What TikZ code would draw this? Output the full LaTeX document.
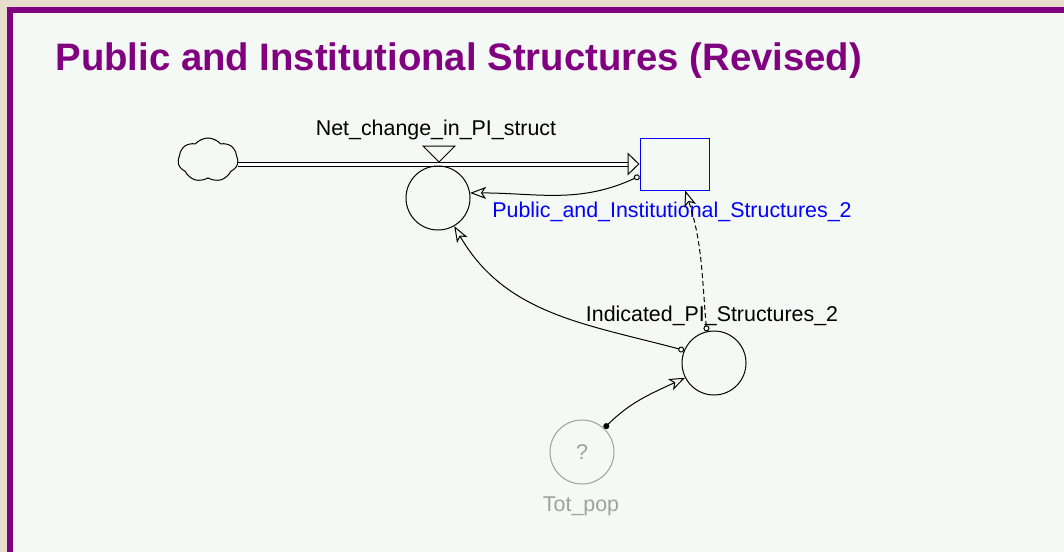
\documentclass[tikz,border=0pt]{standalone}
\usepackage{fontspec}
\setmainfont{Liberation Sans}
\usepackage{xcolor}
\usetikzlibrary{arrows.meta,shapes.symbols}

\definecolor{framepurple}{HTML}{800080}
\definecolor{panelbg}{HTML}{F5F9F6}
\definecolor{paper}{HTML}{E6DDCD}
\definecolor{ghostgray}{HTML}{A0A0A0}

\begin{document}
\begin{tikzpicture}[x=1pt, y=1pt, line width=1pt,
    every node/.style={font=\fontsize{21.4}{25}\selectfont},
    conv/.style={draw, circle, minimum size=64pt, inner sep=0pt},
    ghost/.style={draw=ghostgray, circle, minimum size=64pt, inner sep=0pt, text=ghostgray},
    lbl/.style={inner sep=0pt, anchor=base},
    link/.style={line width=1pt, {Circle[open,length=6pt,width=6pt]}-{Stealth[open,length=16pt,width=12pt,inset=4pt]}}]

    % Background and frame
    \fill[paper] (0,0) rectangle (1064,-552);
    \fill[framepurple] (7,-7) rectangle (1064,-552);
    \fill[panelbg] (13,-13) rectangle (1064,-552);
    \useasboundingbox (0,0) rectangle (1064,-552);

    % Title
    \node[anchor=base west, inner sep=0pt, text=framepurple, font=\fontsize{38.3}{45}\selectfont\bfseries] (title) at (55,-70) {Public and Institutional Structures (Revised)};

    % Source, stock and flow
    \node[draw, cloud, cloud puffs=7, cloud puff arc=100, aspect=1.35, minimum width=60pt, minimum height=44pt, inner sep=0pt] (source) at (208,-160) {};
    \node[draw=blue, rectangle, minimum width=69pt, minimum height=52pt, inner sep=0pt] (pi_stock) at (674.5,-164) {};
    \node[lbl, text=blue] (pi_stock_lbl) at (672,-217) {Public\_and\_Institutional\_Structures\_2};

    \coordinate (pipe_start) at (source.east |- 0,-164);
    \coordinate (pipe_end) at (pi_stock.west |- 0,-164);
    \draw[double, double distance=3pt, -{Triangle[open,length=12pt,width=23pt]}] (pipe_start) -- (pipe_end);

    \coordinate (valve) at (439,-162);
    \draw[fill=panelbg] (valve) -- ++(-16,16) -- ++(32,0) -- cycle;
    \node[conv] (net_change) at (438,-198) {};
    \node[lbl] (net_change_lbl) at (436,-135) {Net\_change\_in\_PI\_struct};

    % Auxiliaries
    \node[conv] (ind_pi) at (714,-363) {};
    \node[lbl] (ind_pi_lbl) at (712,-321) {Indicated\_PI\_Structures\_2};
    \node[ghost, line width=1pt] (tot_pop) at (582,-452) {?};
    \node[lbl, text=ghostgray] (tot_pop_lbl) at (581,-511) {Tot\_pop};

    % Connectors
    \draw[link] (pi_stock.199) to[out=205, in=0] (net_change.9);
    \draw[link] (ind_pi.157) to[out=165, in=-60] (net_change.-60);
    \draw[link, dash pattern=on 5pt off 3pt] (ind_pi.103) to[out=95, in=-72] (pi_stock.-68);
    \draw[link, {Circle[length=6pt,width=6pt]}-{Stealth[open,length=16pt,width=12pt,inset=4pt]}] (tot_pop.47) to[out=45, in=205] (ind_pi.207);
\end{tikzpicture}
\end{document}
